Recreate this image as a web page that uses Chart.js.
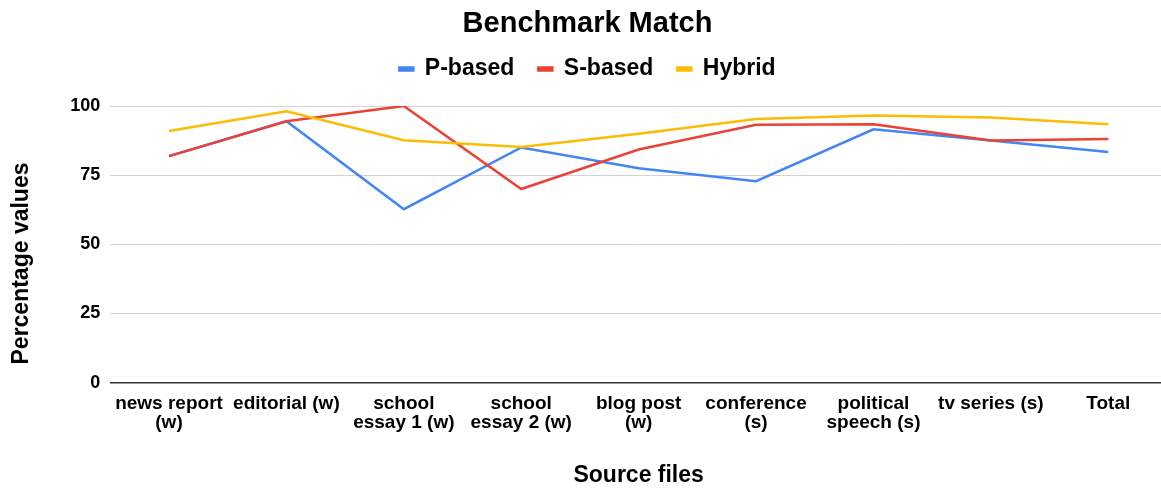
<!DOCTYPE html>
<html>
<head>
<meta charset="utf-8">
<script src="https://cdn.jsdelivr.net/npm/chart.js@4/dist/chart.umd.min.js"></script>
<style>
  html, body { margin: 0; padding: 0; background: #fff; overflow: hidden; }
  #wrap { width: 1167px; height: 489px; position: relative; }
</style>
</head>
<body>
<div id="wrap"><canvas id="chartCanva"></canvas></div>
<script>
    var categories = [
        ['news report', '(w)'],
        ['editorial (w)'],
        ['school', 'essay 1 (w)'],
        ['school', 'essay 2 (w)'],
        ['blog post', '(w)'],
        ['conference', '(s)'],
        ['political', 'speech (s)'],
        ['tv series (s)'],
        ['Total']
    ];
    var pBased = [81.9, 94.5, 62.7, 85.0, 77.5, 72.8, 91.6, 87.5, 83.4];
    var sBased = [81.9, 94.5, 100, 70.0, 84.3, 93.2, 93.4, 87.5, 88.1];
    var hybrid = [91.0, 98.1, 87.6, 85.2, 90.0, 95.3, 96.6, 95.8, 93.4];
    var yTicks = [0, 25, 50, 75, 100];

    var fontFamily = "'Liberation Sans', Arial, sans-serif";
    var yAxisTitle = 'Percentage values';

    function lineSet(label, values, color, order) {
        return {
            label: label,
            data: values,
            borderColor: color,
            backgroundColor: color,
            borderWidth: 2.5,
            pointRadius: 0,
            tension: 0,
            order: order // later series sit on top
        };
    }

    // extra room between the legend row and the plot
    const legendGap = {
        id: 'legendGap',
        beforeLayout(chart) {
            const lg = chart.legend;
            if (lg && !lg._gapPatched) {
                const fit = lg.fit;
                lg.fit = function () {
                    fit.call(this);
                    this.height += 15.5;
                };
                lg._gapPatched = true;
            }
        }
    };

    // vertical axis title, centred on the whole chart height rather than the plot
    const sideTitle = {
        id: 'sideTitle',
        afterDraw(chart) {
            const c = chart.ctx;
            c.save();
            c.translate(22, 263.5);
            c.rotate(-Math.PI / 2);
            c.fillStyle = '#000';
            c.font = "bold 23px " + fontFamily;
            c.textAlign = 'center';
            c.textBaseline = 'middle';
            c.fillText(yAxisTitle, 0, 0);
            c.restore();
        }
    };

    const data = {
        labels: categories,
        datasets: [
            lineSet('P-based', pBased, '#4285F4', 3),
            lineSet('S-based', sBased, '#EA4335', 2),
            lineSet('Hybrid', hybrid, '#FBBC04', 1)
        ]
    };

    const config = {
        type: 'line',
        data: data,
        plugins: [legendGap, sideTitle],
        options: {
            responsive: true,
            maintainAspectRatio: false,
            animation: false,
            layout: { padding: { left: 8, right: 0, top: 0, bottom: 0 } },
            plugins: {
                tooltip: { enabled: false },
                title: {
                    display: true,
                    text: 'Benchmark Match',
                    color: '#000',
                    font: { family: fontFamily, size: 29, weight: 'bold', lineHeight: 0.4 },
                    padding: { top: 18.2, bottom: 3.7 }
                },
                legend: {
                    display: true,
                    position: 'top',
                    labels: {
                        color: '#000',
                        font: { family: fontFamily, size: 23, weight: 'bold' },
                        boxWidth: 14,
                        boxHeight: 3,
                        padding: 24,
                        sort: (a, b) => a.datasetIndex - b.datasetIndex
                    }
                }
            },
            scales: {
                x: {
                    offset: true,
                    grid: { display: false, drawTicks: false },
                    border: { display: false },
                    ticks: {
                        color: '#000',
                        font: { family: fontFamily, size: 19, weight: 'bold', lineHeight: 1.0 },
                        padding: 12,
                        autoSkip: false,
                        maxRotation: 0,
                        minRotation: 0
                    },
                    title: {
                        display: true,
                        text: 'Source files',
                        color: '#000',
                        font: { family: fontFamily, size: 23, weight: 'bold', lineHeight: 1.2 },
                        padding: { top: 0, bottom: 0 }
                    },
                    afterFit: (scale) => { scale.height = 106.3; }
                },
                y: {
                    min: 0,
                    max: 100,
                    afterBuildTicks: (scale) => {
                        scale.ticks = yTicks.map(v => ({ value: v }));
                    },
                    grid: {
                        drawTicks: false,
                        color: (ctx) => ctx.tick && ctx.tick.value === 0 ? '#333333' : '#d3d3d3',
                        lineWidth: (ctx) => ctx.tick && ctx.tick.value === 0 ? 1.5 : 1
                    },
                    border: { display: false },
                    ticks: {
                        color: '#000',
                        font: { family: fontFamily, size: 18, weight: 'bold' },
                        padding: 10
                    },
                    title: { display: false },
                    afterFit: (scale) => { scale.width = 102.3; }
                }
            }
        }
    };

    var myChart = new Chart(document.getElementById('chartCanva'), config);
</script>
</body>
</html>
